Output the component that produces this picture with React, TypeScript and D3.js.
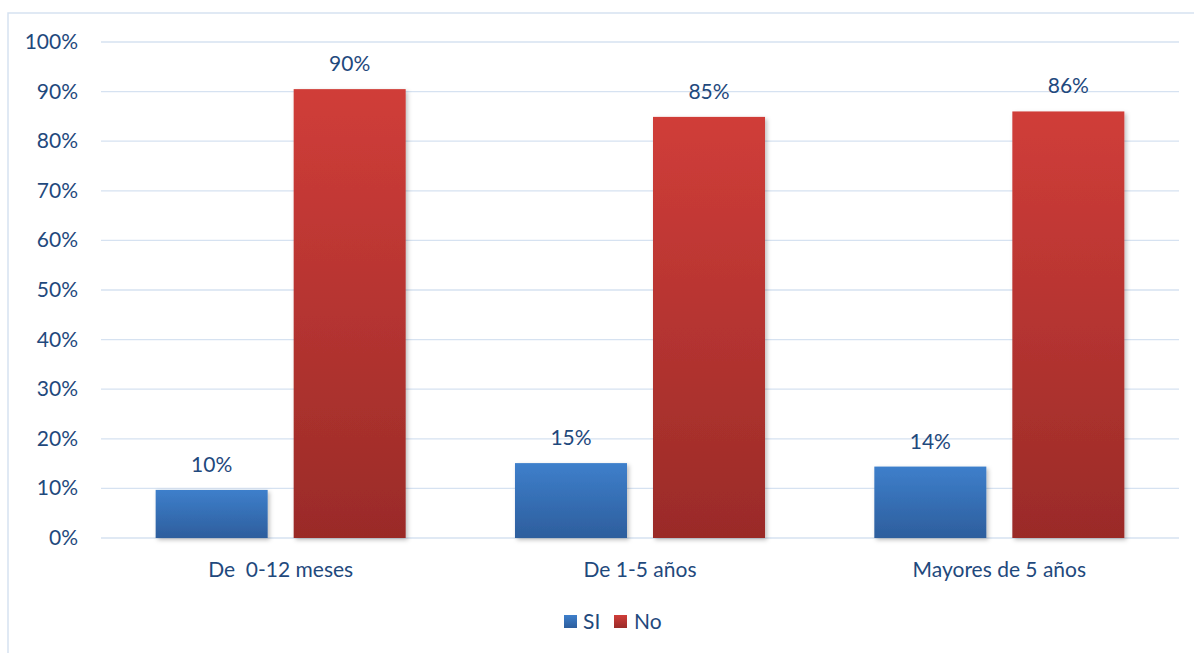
import React from "react";
import * as d3 from "d3";

const categories = ["De  0-12 meses", "De 1-5 años", "Mayores de 5 años"];
const seriesNames = ["SI", "No"];
const siValues = [0.097, 0.151, 0.144];
const noValues = [0.905, 0.849, 0.86];
const siLabels = ["10%", "15%", "14%"];
const noLabels = ["90%", "85%", "86%"];
const yTicks = [0, 0.1, 0.2, 0.3, 0.4, 0.5, 0.6, 0.7, 0.8, 0.9, 1.0];

const W = 1194;
const H = 653;
const FONT = "Lato, 'Open Sans', sans-serif";
const TEXT = "#1F497D";
const GRID = "#D6E2F1";
const FS = 21;
const DY = -1.5;

export default function App() {
  const x0 = d3.scaleBand<string>().domain(categories).range([101, 1179]).padding(0);
  const x1 = d3
    .scaleBand<string>()
    .domain(seriesNames)
    .range([0, x0.bandwidth()])
    .paddingInner(0.1884)
    .paddingOuter(0.396);
  const y = d3.scaleLinear().domain([0, 1]).range([538, 42]);

  const series = [
    { name: "SI", values: siValues, labels: siLabels, fill: "url(#gBlue)" },
    { name: "No", values: noValues, labels: noLabels, fill: "url(#gRed)" },
  ];

  return (
    <svg width={W} height={H} style={{ position: "absolute", left: 0, top: 0 }} fontFamily={FONT}>
      <defs>
        <linearGradient id="gBlue" x1="0" y1="0" x2="0" y2="1">
          <stop offset="0" stopColor="#3E7FCB" />
          <stop offset="1" stopColor="#2D5E9D" />
        </linearGradient>
        <linearGradient id="gRed" x1="0" y1="0" x2="0" y2="1">
          <stop offset="0" stopColor="#D03D39" />
          <stop offset="1" stopColor="#9A2B28" />
        </linearGradient>
        <filter id="shadow" x="-20%" y="-20%" width="140%" height="140%">
          <feDropShadow dx="2" dy="2" stdDeviation="2" floodColor="#000" floodOpacity="0.25" />
        </filter>
      </defs>
      <rect x={0} y={0} width={W} height={H} fill="#fff" />
      <rect x={8} y={13} width={W + 10} height={H + 10} fill="none" stroke={GRID} strokeWidth={1.5} />
      {yTicks.map((t) => (
        <g key={t}>
          <line x1={101} x2={1179} y1={y(t)} y2={y(t)} stroke={GRID} strokeWidth={1.3} />
          <text x={78} y={y(t) + DY} textAnchor="end" dominantBaseline="central" fontSize={FS} fill={TEXT}>
            {d3.format(".0%")(t)}
          </text>
        </g>
      ))}
      {categories.map((c, i) => (
        <g key={c} transform={`translate(${x0(c)},0)`}>
          {series.map((s) => (
            <g key={s.name}>
              <rect
                x={x1(s.name)}
                y={y(s.values[i])}
                width={x1.bandwidth()}
                height={y(0) - y(s.values[i])}
                fill={s.fill}
                filter="url(#shadow)"
              />
              <text
                x={(x1(s.name) as number) + x1.bandwidth() / 2}
                y={y(s.values[i]) - 25 + DY}
                textAnchor="middle"
                dominantBaseline="central"
                fontSize={FS}
                fill={TEXT}
              >
                {s.labels[i]}
              </text>
            </g>
          ))}
          <text
            x={x0.bandwidth() / 2}
            y={570 + DY}
            textAnchor="middle"
            dominantBaseline="central"
            fontSize={FS}
            fill={TEXT}
            style={{ whiteSpace: "pre" }}
          >
            {c}
          </text>
        </g>
      ))}
      <g>
        <rect x={564} y={615} width={13} height={13} fill="url(#gBlue)" />
        <text x={583} y={621.5 + DY} dominantBaseline="central" fontSize={FS} fill={TEXT}>SI</text>
        <rect x={614} y={615} width={13} height={13} fill="url(#gRed)" />
        <text x={634} y={621.5 + DY} dominantBaseline="central" fontSize={FS} fill={TEXT}>No</text>
      </g>
    </svg>
  );
}
